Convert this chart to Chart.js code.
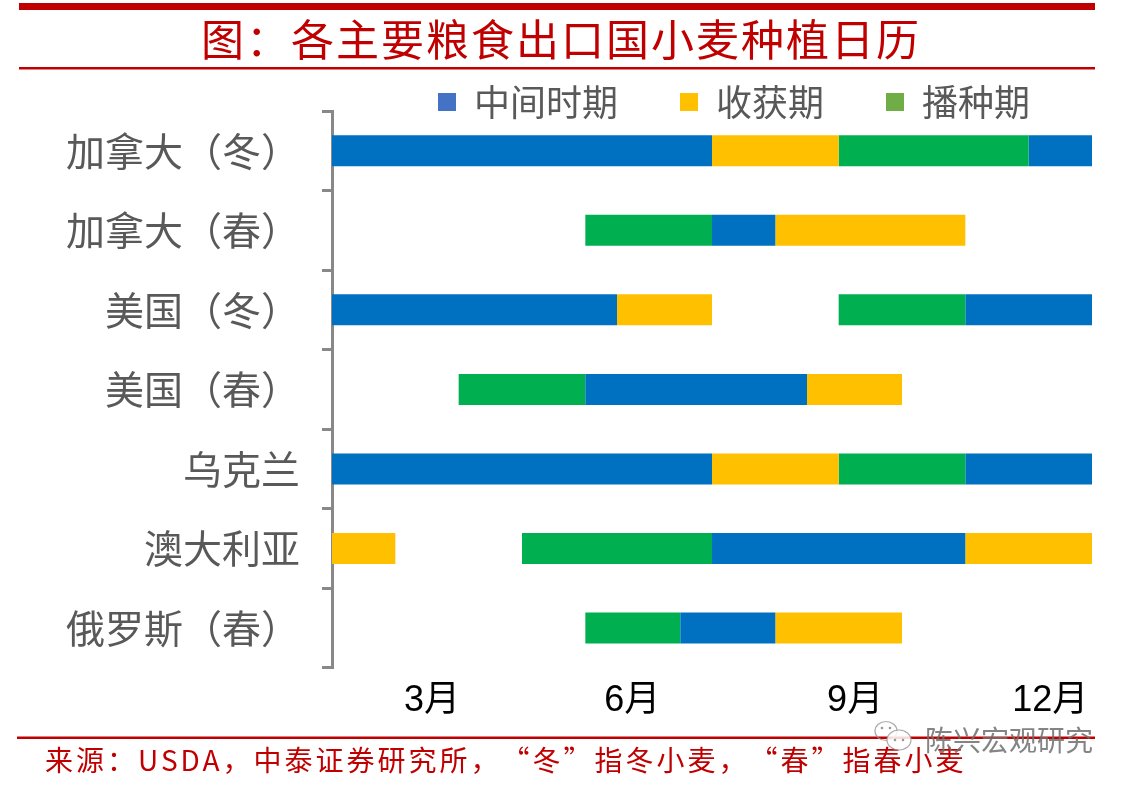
<!DOCTYPE html>
<html>
<head>
<meta charset="utf-8">
<script src="https://cdn.jsdelivr.net/npm/chart.js@4.4.1/dist/chart.umd.min.js"></script>
<style>
html,body{margin:0;padding:0;background:#fff;}
#wrap{width:1128px;height:789px;position:relative;}
</style>
</head>
<body>
<div id="wrap"><canvas id="c" width="1128" height="789"></canvas></div>
<script>
// ---- data ----
const categories = ['加拿大（冬）','加拿大（春）','美国（冬）','美国（春）','乌克兰','澳大利亚','俄罗斯（春）'];
// month ranges [start, end] on a 0–12 scale
const midA     = [[0,6],[6,7],[0,4.5],[4,7.5],[0,6],[6,10],[5.5,7]];
const midB     = [[11,12],null,[10,12],null,[10,12],null,null];
const harvestA = [[6,8],[7,10],[4.5,6],[7.5,9],[6,8],[0,1],[7,9]];
const harvestB = [null,null,null,null,null,[10,12],null];
const sowing   = [[8,11],[4,6],[8,10],[2,4],[8,10],[3,6],[4,5.5]];
const seriesNames = ['中间时期','收获期','播种期'];
const tickValues = [1.58, 4.74, 8.26, 11.34];
const tickLabels = ['3月','6月','9月','12月'];
const titleText = '图：各主要粮食出口国小麦种植日历';
const sourceText = '来源：USDA，中泰证券研究所，“冬”指冬小麦，“春”指春小麦';
const watermarkText = '陈兴宏观研究';

const BLUE='#0070C0', YELLOW='#FFC000', GREEN='#00B050';
const LEG_COLORS=['#4472C4','#FFC000','#70AD47'];
const CJK='"Noto Sans CJK SC","Noto Sans",sans-serif';

function ds(label, data, color, legend){
  return {label, data, backgroundColor: color, borderWidth: 0, grouped: false,
          barPercentage: 0.39, categoryPercentage: 1, _legend: legend};
}

const decor = {
  id: 'decor',
  beforeInit(chart){
    const lg = chart.legend;
    if (lg) {
      const orig = lg.fit.bind(lg);
      lg.fit = function(){ orig(); this.height = 89; };
      lg.draw = function(){ if (this.options.display) this._draw(); };
    }
  },
  afterDraw(chart){
    const ctx = chart.ctx;
    ctx.save();
    // title lines
    ctx.fillStyle = '#C00000';
    ctx.fillRect(19, 3, 1076, 7);
    ctx.fillRect(19, 67, 1076, 2.5);
    // title
    ctx.font = '43px ' + CJK;
    ctx.letterSpacing = '2px';
    ctx.textAlign = 'center';
    ctx.textBaseline = 'middle';
    ctx.fillText(titleText, 561, 40);
    // footer line
    ctx.fillRect(17, 736.5, 1078, 2.5);
    // source
    ctx.font = '28px ' + CJK;
    ctx.letterSpacing = '3px';
    ctx.textAlign = 'left';
    ctx.fillText(sourceText, 45, 760);
    ctx.letterSpacing = '0px';
    // watermark
    ctx.strokeStyle = 'rgba(150,150,150,0.8)';
    ctx.lineWidth = 1.2;
    ctx.beginPath(); ctx.ellipse(886, 731, 11, 9.5, 0, 0, Math.PI*2); ctx.stroke();
    ctx.fillStyle = 'rgba(255,255,255,0.85)';
    ctx.beginPath(); ctx.ellipse(899, 740, 12, 10, 0, 0, Math.PI*2); ctx.fill(); ctx.stroke();
    ctx.fillStyle = 'rgba(140,140,140,0.9)';
    [[882,728],[890,728],[895,740],[903,740]].forEach(p=>{ctx.beginPath();ctx.arc(p[0],p[1],1.3,0,Math.PI*2);ctx.fill();});
    ctx.font = '28px ' + CJK;
    ctx.fillStyle = 'rgba(110,110,110,0.85)';
    ctx.textBaseline = 'middle';
    ctx.fillText(watermarkText, 925, 740);
    ctx.restore();
  }
};

new Chart(document.getElementById('c'), {
  type: 'bar',
  data: {
    labels: categories,
    datasets: [
      ds(seriesNames[0], midA, BLUE, 0),
      ds(seriesNames[1], harvestA, YELLOW, 1),
      ds(seriesNames[2], sowing, GREEN, 2),
      ds(seriesNames[0], midB, BLUE, -1),
      ds(seriesNames[1], harvestB, YELLOW, -1)
    ]
  },
  options: {
    indexAxis: 'y',
    responsive: false,
    animation: false,
    devicePixelRatio: 1,
    layout: { padding: { left: 0, right: 36, top: 22, bottom: 54 } },
    scales: {
      x: {
        type: 'linear', min: 0, max: 12,
        afterBuildTicks(scale){ scale.ticks = tickValues.map(v => ({value: v})); },
        ticks: {
          autoSkip: false, maxRotation: 0, padding: 12, color: '#000',
          font: { size: 36, family: '"Liberation Sans",' + CJK },
          callback: (v, i) => tickLabels[i]
        },
        grid: { display: false, drawTicks: false },
        border: { display: false }
      },
      y: {
        afterFit(scale){ scale.width = 332; },
        ticks: { color: '#595959', padding: 22, font: { size: 39, family: CJK } },
        grid: { drawOnChartArea: false, drawTicks: true, tickLength: 10, color: '#888888', lineWidth: 3, offset: true },
        border: { display: true, color: '#888888', width: 3 }
      }
    },
    plugins: {
      tooltip: { enabled: false },
      legend: {
        position: 'top', align: 'end',
        labels: {
          boxWidth: 18, boxHeight: 18, padding: 62, color: '#595959',
          font: { size: 36, family: CJK },
          filter: (item, data) => data.datasets[item.datasetIndex]._legend >= 0,
          generateLabels(chart){
            return chart.data.datasets.map((d, i) => ({
              text: d.label, fillStyle: LEG_COLORS[d._legend] || d.backgroundColor,
              strokeStyle: 'transparent', lineWidth: 0, hidden: false, datasetIndex: i, fontColor: '#595959'
            }));
          }
        }
      }
    }
  },
  plugins: [decor]
});
</script>
</body>
</html>
